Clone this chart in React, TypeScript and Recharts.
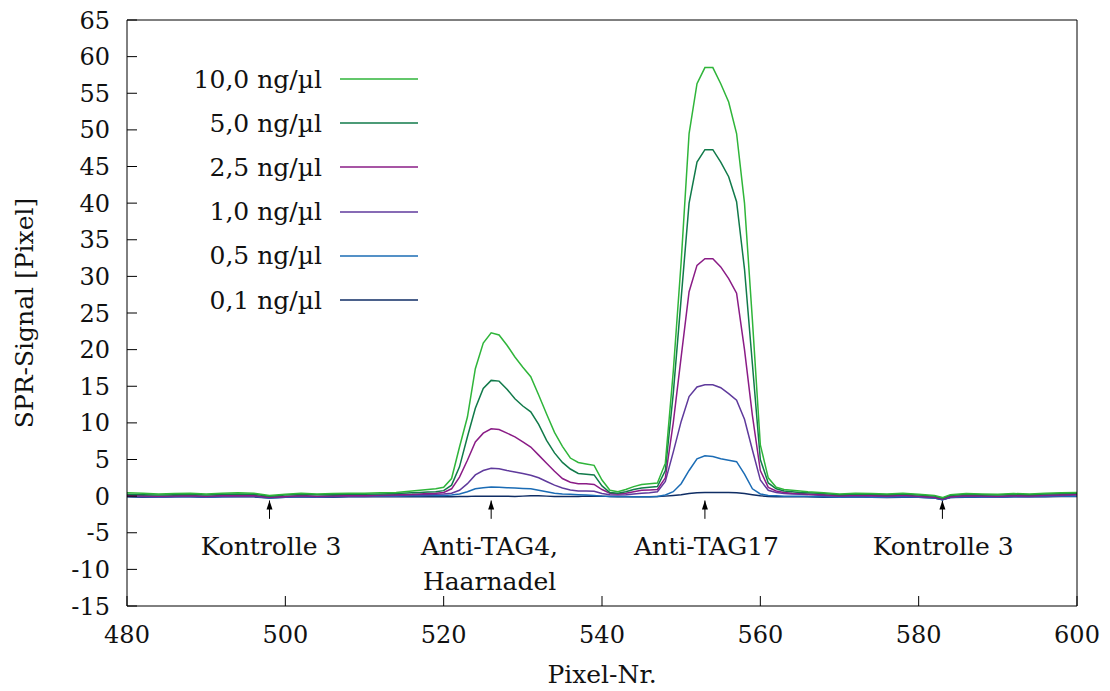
import React from 'react';
import {
    LineChart,
    Line,
    XAxis,
    YAxis,
    Legend,
    ReferenceLine,
    ReferenceDot,
} from 'recharts';

// Pixel positions (x), denser sampling around the two spots
const pixel = [
    480, 482, 484, 486, 488, 490, 492, 494, 496, 498, 500, 502, 504, 506, 508, 510, 512, 514, 516,
    517, 518, 519, 520, 521, 522, 523, 524, 525, 526,
    527, 528, 529, 530, 531, 532, 533, 534, 535, 536,
    537, 538, 539, 540, 541, 542, 543, 544, 545, 546,
    547, 548, 549, 550, 551, 552, 553, 554, 555, 556,
    557, 558, 559, 560, 561, 562, 563, 564, 565,
    566, 568, 570, 572, 574, 576, 578, 580, 582, 583, 584, 586, 588, 590, 592, 594, 596, 598, 600,
];

const conc100 = [
    0.45, 0.4, 0.3, 0.35, 0.4, 0.3, 0.4, 0.45, 0.4, 0.1, 0.25, 0.4, 0.3, 0.35, 0.4, 0.4, 0.45, 0.5, 0.7,
    0.8, 0.9, 1.0, 1.2, 2.4, 6.7, 10.8, 17.4, 20.9, 22.3,
    22.0, 20.6, 19.0, 17.6, 16.3, 13.8, 11.2, 8.7, 6.8, 5.2,
    4.6, 4.4, 4.2, 2.2, 0.8, 0.6, 0.9, 1.3, 1.6, 1.7,
    1.8, 4.5, 17.0, 32.0, 49.5, 56.3, 58.5, 58.5, 56.3, 53.8,
    49.5, 40.0, 24.0, 7.0, 2.5, 1.2, 0.9, 0.8, 0.7,
    0.6, 0.45, 0.3, 0.4, 0.35, 0.3, 0.4, 0.25, 0.1, -0.2, 0.2, 0.35, 0.3, 0.25, 0.35, 0.3, 0.4, 0.45, 0.5,
];

const conc50 = [
    0.25, 0.2, 0.15, 0.2, 0.25, 0.15, 0.25, 0.3, 0.25, 0.0, 0.15, 0.25, 0.2, 0.2, 0.3, 0.25, 0.3, 0.35, 0.45,
    0.5, 0.55, 0.6, 0.75, 1.5, 4.0, 8.1, 12.0, 14.7, 15.8,
    15.7, 14.6, 13.3, 12.3, 11.5, 9.8, 7.6, 5.9, 4.6, 3.7,
    3.1, 3.0, 2.9, 1.4, 0.5, 0.4, 0.6, 0.9, 1.1, 1.2,
    1.3, 3.5, 14.0, 27.0, 40.0, 45.6, 47.3, 47.3, 45.6, 43.6,
    40.2, 31.0, 18.0, 5.0, 1.8, 1.0, 0.7, 0.6, 0.5,
    0.45, 0.35, 0.2, 0.3, 0.25, 0.2, 0.3, 0.15, 0.0, -0.3, 0.1, 0.25, 0.2, 0.15, 0.25, 0.2, 0.3, 0.35, 0.4,
];

const conc25 = [
    0.1, 0.05, 0.0, 0.05, 0.1, 0.0, 0.1, 0.1, 0.1, -0.15, -0.05, 0.1, 0.0, 0.05, 0.1, 0.1, 0.15, 0.2, 0.25,
    0.3, 0.35, 0.4, 0.5, 1.0, 2.6, 4.9, 7.4, 8.6, 9.2,
    9.1, 8.6, 8.1, 7.4, 6.7, 5.6, 4.5, 3.4, 2.4, 1.9,
    1.7, 1.7, 1.6, 0.9, 0.4, 0.3, 0.4, 0.6, 0.8, 0.85,
    0.9, 2.5, 10.0, 19.0, 27.9, 31.5, 32.4, 32.4, 31.3, 29.7,
    27.7, 20.0, 11.0, 3.5, 1.2, 0.7, 0.5, 0.4, 0.35,
    0.3, 0.2, 0.05, 0.15, 0.1, 0.05, 0.15, 0.0, -0.15, -0.4, -0.05, 0.1, 0.05, 0.0, 0.1, 0.05, 0.15, 0.2, 0.25,
];

const conc10 = [
    0.0, -0.05, -0.1, -0.05, 0.0, -0.1, 0.0, 0.0, 0.0, -0.2, -0.1, 0.0, -0.1, -0.05, 0.0, 0.0, 0.05, 0.1, 0.15,
    0.2, 0.2, 0.25, 0.3, 0.4, 0.8, 1.7, 2.9, 3.5, 3.8,
    3.75, 3.5, 3.3, 3.1, 2.85, 2.5, 2.0, 1.5, 1.1, 0.85,
    0.7, 0.7, 0.65, 0.35, 0.2, 0.15, 0.2, 0.3, 0.4, 0.45,
    0.6, 2.0, 6.0, 10.2, 13.6, 14.9, 15.2, 15.2, 14.8, 14.0,
    13.1, 10.5, 6.3, 2.2, 0.8, 0.5, 0.35, 0.3, 0.25,
    0.2, 0.1, 0.0, 0.05, 0.0, -0.05, 0.05, -0.1, -0.2, -0.45, -0.15, 0.0, -0.05, -0.1, 0.0, -0.05, 0.05, 0.1, 0.15,
];

const conc05 = [
    -0.05, -0.1, -0.15, -0.1, -0.05, -0.15, -0.1, -0.05, -0.05, -0.25, -0.15, -0.05, -0.15, -0.1, -0.05, -0.05, 0.0, 0.0, 0.05,
    0.05, 0.1, 0.1, 0.1, 0.15, 0.3, 0.6, 1.0, 1.15, 1.25,
    1.2, 1.15, 1.1, 1.05, 1.0, 0.8, 0.6, 0.4, 0.3, 0.25,
    0.2, 0.15, 0.1, 0.0, -0.05, -0.05, -0.05, -0.1, -0.1, -0.1,
    -0.05, 0.15, 0.6, 1.7, 3.5, 5.1, 5.5, 5.4, 5.1, 4.9,
    4.7, 3.0, 1.0, 0.3, 0.1, 0.05, 0.0, 0.0, 0.0,
    -0.05, -0.1, -0.15, -0.1, -0.15, -0.15, -0.1, -0.15, -0.25, -0.5, -0.2, -0.1, -0.15, -0.15, -0.1, -0.1, -0.05, 0.0, 0.0,
];

const conc01 = [
    -0.1, -0.15, -0.15, -0.1, -0.1, -0.15, -0.1, -0.1, -0.1, -0.25, -0.15, -0.1, -0.15, -0.15, -0.1, -0.1, -0.1, -0.1, -0.1,
    -0.1, -0.1, -0.1, -0.1, -0.1, -0.05, -0.05, 0.0, 0.0, 0.0,
    0.0, 0.0, -0.05, 0.0, 0.05, 0.05, 0.0, -0.05, -0.05, -0.05,
    -0.05, 0.0, 0.0, 0.0, -0.05, -0.1, -0.1, -0.1, -0.1, -0.1,
    -0.05, 0.0, 0.1, 0.2, 0.35, 0.45, 0.5, 0.5, 0.5, 0.5,
    0.45, 0.35, 0.2, 0.05, -0.05, -0.1, -0.1, -0.1, -0.1,
    -0.1, -0.15, -0.15, -0.1, -0.15, -0.2, -0.15, -0.15, -0.25, -0.5, -0.2, -0.15, -0.15, -0.15, -0.1, -0.1, -0.1, -0.05, -0.05,
];

const xTicks = [480, 500, 520, 540, 560, 580, 600];
const yTicks = [-15, -10, -5, 0, 5, 10, 15, 20, 25, 30, 35, 40, 45, 50, 55, 60, 65];

// legend order (top to bottom)
const seriesKeys = ['c100', 'c50', 'c25', 'c10', 'c05', 'c01'];
const seriesLabels = ['10,0 ng/µl', '5,0 ng/µl', '2,5 ng/µl', '1,0 ng/µl', '0,5 ng/µl', '0,1 ng/µl'];
const seriesColors = ['#2fb53a', '#117a4a', '#8a1c86', '#5f3a9c', '#1b6cb5', '#0f2d64'];

// arrows marking the spots and their captions
const arrowX = [498, 526, 553, 583];
const arrowTop = -0.6;
const arrowBottom = -3.1;
const captionX = [498.2, 525.8, 553.2, 583.1];
const captionY = -8.05;
const captionLines = [['Kontrolle 3'], ['Anti-TAG4,', 'Haarnadel'], ['Anti-TAG17'], ['Kontrolle 3']];

const data = pixel.map((x, i) => ({
    x,
    c100: conc100[i],
    c50: conc50[i],
    c25: conc25[i],
    c10: conc10[i],
    c05: conc05[i],
    c01: conc01[i],
}));

const textFont = '"DejaVu Serif", serif';
const textColor = '#111';

const ArrowShape = (props: any) => {
    const { x1, y1, x2, y2 } = props;
    const top = Math.min(y1, y2);
    return (
        <g>
            <line x1={x1} y1={y1} x2={x2} y2={y2} stroke="#000" strokeWidth={1} />
            <path d={`M${x1},${top} l-3,9 l6,0 z`} fill="#000" />
        </g>
    );
};

const makeCaption = (lines: string[]) => (props: any) => {
    const vb = props.viewBox || {};
    const cx = (vb.x || 0) + (vb.width || 0) / 2;
    const cy = (vb.y || 0) + (vb.height || 0) / 2;
    return (
        <text x={cx} y={cy} textAnchor="middle" fontFamily={textFont} fontSize={25} fill={textColor}>
            {lines.map((l, i) => (
                <tspan key={i} x={cx} dy={i === 0 ? 0 : 35}>{l}</tspan>
            ))}
        </text>
    );
};

const LegendBox = () => (
    <div style={{ fontFamily: textFont, fontSize: 25, color: textColor }}>
        {seriesLabels.map((label, i) => (
            <div key={label} style={{ display: 'flex', alignItems: 'center', height: 44.2 }}>
                <span style={{ width: 172, textAlign: 'right', whiteSpace: 'nowrap' }}>{label}</span>
                <svg width={78} height={4} style={{ marginLeft: 18 }}>
                    <line x1={0} y1={2} x2={78} y2={2} stroke={seriesColors[i]} strokeWidth={1.5} />
                </svg>
            </div>
        ))}
    </div>
);

const App: React.FC = () => {
    return (
        <div style={{ position: 'absolute', left: 0, top: 0, width: 1110, height: 691, background: '#fff' }}>
            <LineChart
                width={1110}
                height={691}
                data={data}
                margin={{ top: 19, right: 32, left: 0, bottom: 0 }}
            >
                <XAxis
                    dataKey="x"
                    type="number"
                    domain={[480, 600]}
                    ticks={xTicks}
                    allowDataOverflow
                    height={85}
                    stroke="#000"
                    tickSize={-10}
                    tickMargin={30}
                    tick={{ fill: textColor, fontFamily: textFont, fontSize: 24 }}
                    label={{ value: 'Pixel-Nr.', position: 'insideBottom', offset: 8, fill: textColor, fontFamily: textFont, fontSize: 25 }}
                />
                <XAxis
                    xAxisId="top"
                    orientation="top"
                    type="number"
                    domain={[480, 600]}
                    ticks={xTicks}
                    allowDataOverflow
                    height={1}
                    stroke="#000"
                    tickSize={-10}
                    tick={false}
                />
                <YAxis
                    type="number"
                    domain={[-15, 65]}
                    ticks={yTicks}
                    allowDataOverflow
                    width={127}
                    stroke="#000"
                    tickSize={-10}
                    tickMargin={27}
                    tick={{ fill: textColor, fontFamily: textFont, fontSize: 24 }}
                    label={{
                        value: 'SPR-Signal [Pixel]',
                        angle: -90,
                        position: 'insideLeft',
                        offset: 24,
                        fill: textColor,
                        fontFamily: textFont,
                        fontSize: 25,
                        style: { textAnchor: 'middle' },
                    }}
                />
                <YAxis
                    yAxisId="right"
                    orientation="right"
                    type="number"
                    domain={[-15, 65]}
                    ticks={yTicks}
                    allowDataOverflow
                    width={1}
                    stroke="#000"
                    tickSize={-10}
                    tick={false}
                />
                <Legend
                    layout="vertical"
                    align="center"
                    verticalAlign="middle"
                    content={() => <LegendBox />}
                    wrapperStyle={{ position: 'absolute', left: 150, top: 57, width: 290, height: 266 }}
                />
                {arrowX.map((ax) => (
                    <ReferenceLine
                        key={`arrow-${ax}`}
                        segment={[{ x: ax, y: arrowTop }, { x: ax, y: arrowBottom }]}
                        shape={ArrowShape}
                        ifOverflow="visible"
                    />
                ))}
                {captionX.map((cx, i) => (
                    <ReferenceDot
                        key={`cap-${i}`}
                        x={cx}
                        y={captionY}
                        r={0}
                        stroke="none"
                        fill="none"
                        ifOverflow="visible"
                        label={makeCaption(captionLines[i])}
                    />
                ))}
                {[...seriesKeys].reverse().map((key) => {
                    const idx = seriesKeys.indexOf(key);
                    return (
                        <Line
                            key={key}
                            type="linear"
                            dataKey={key}
                            name={seriesLabels[idx]}
                            stroke={seriesColors[idx]}
                            strokeWidth={1.5}
                            dot={false}
                            activeDot={false}
                            isAnimationActive={false}
                        />
                    );
                })}
            </LineChart>
        </div>
    );
};

export default App;
